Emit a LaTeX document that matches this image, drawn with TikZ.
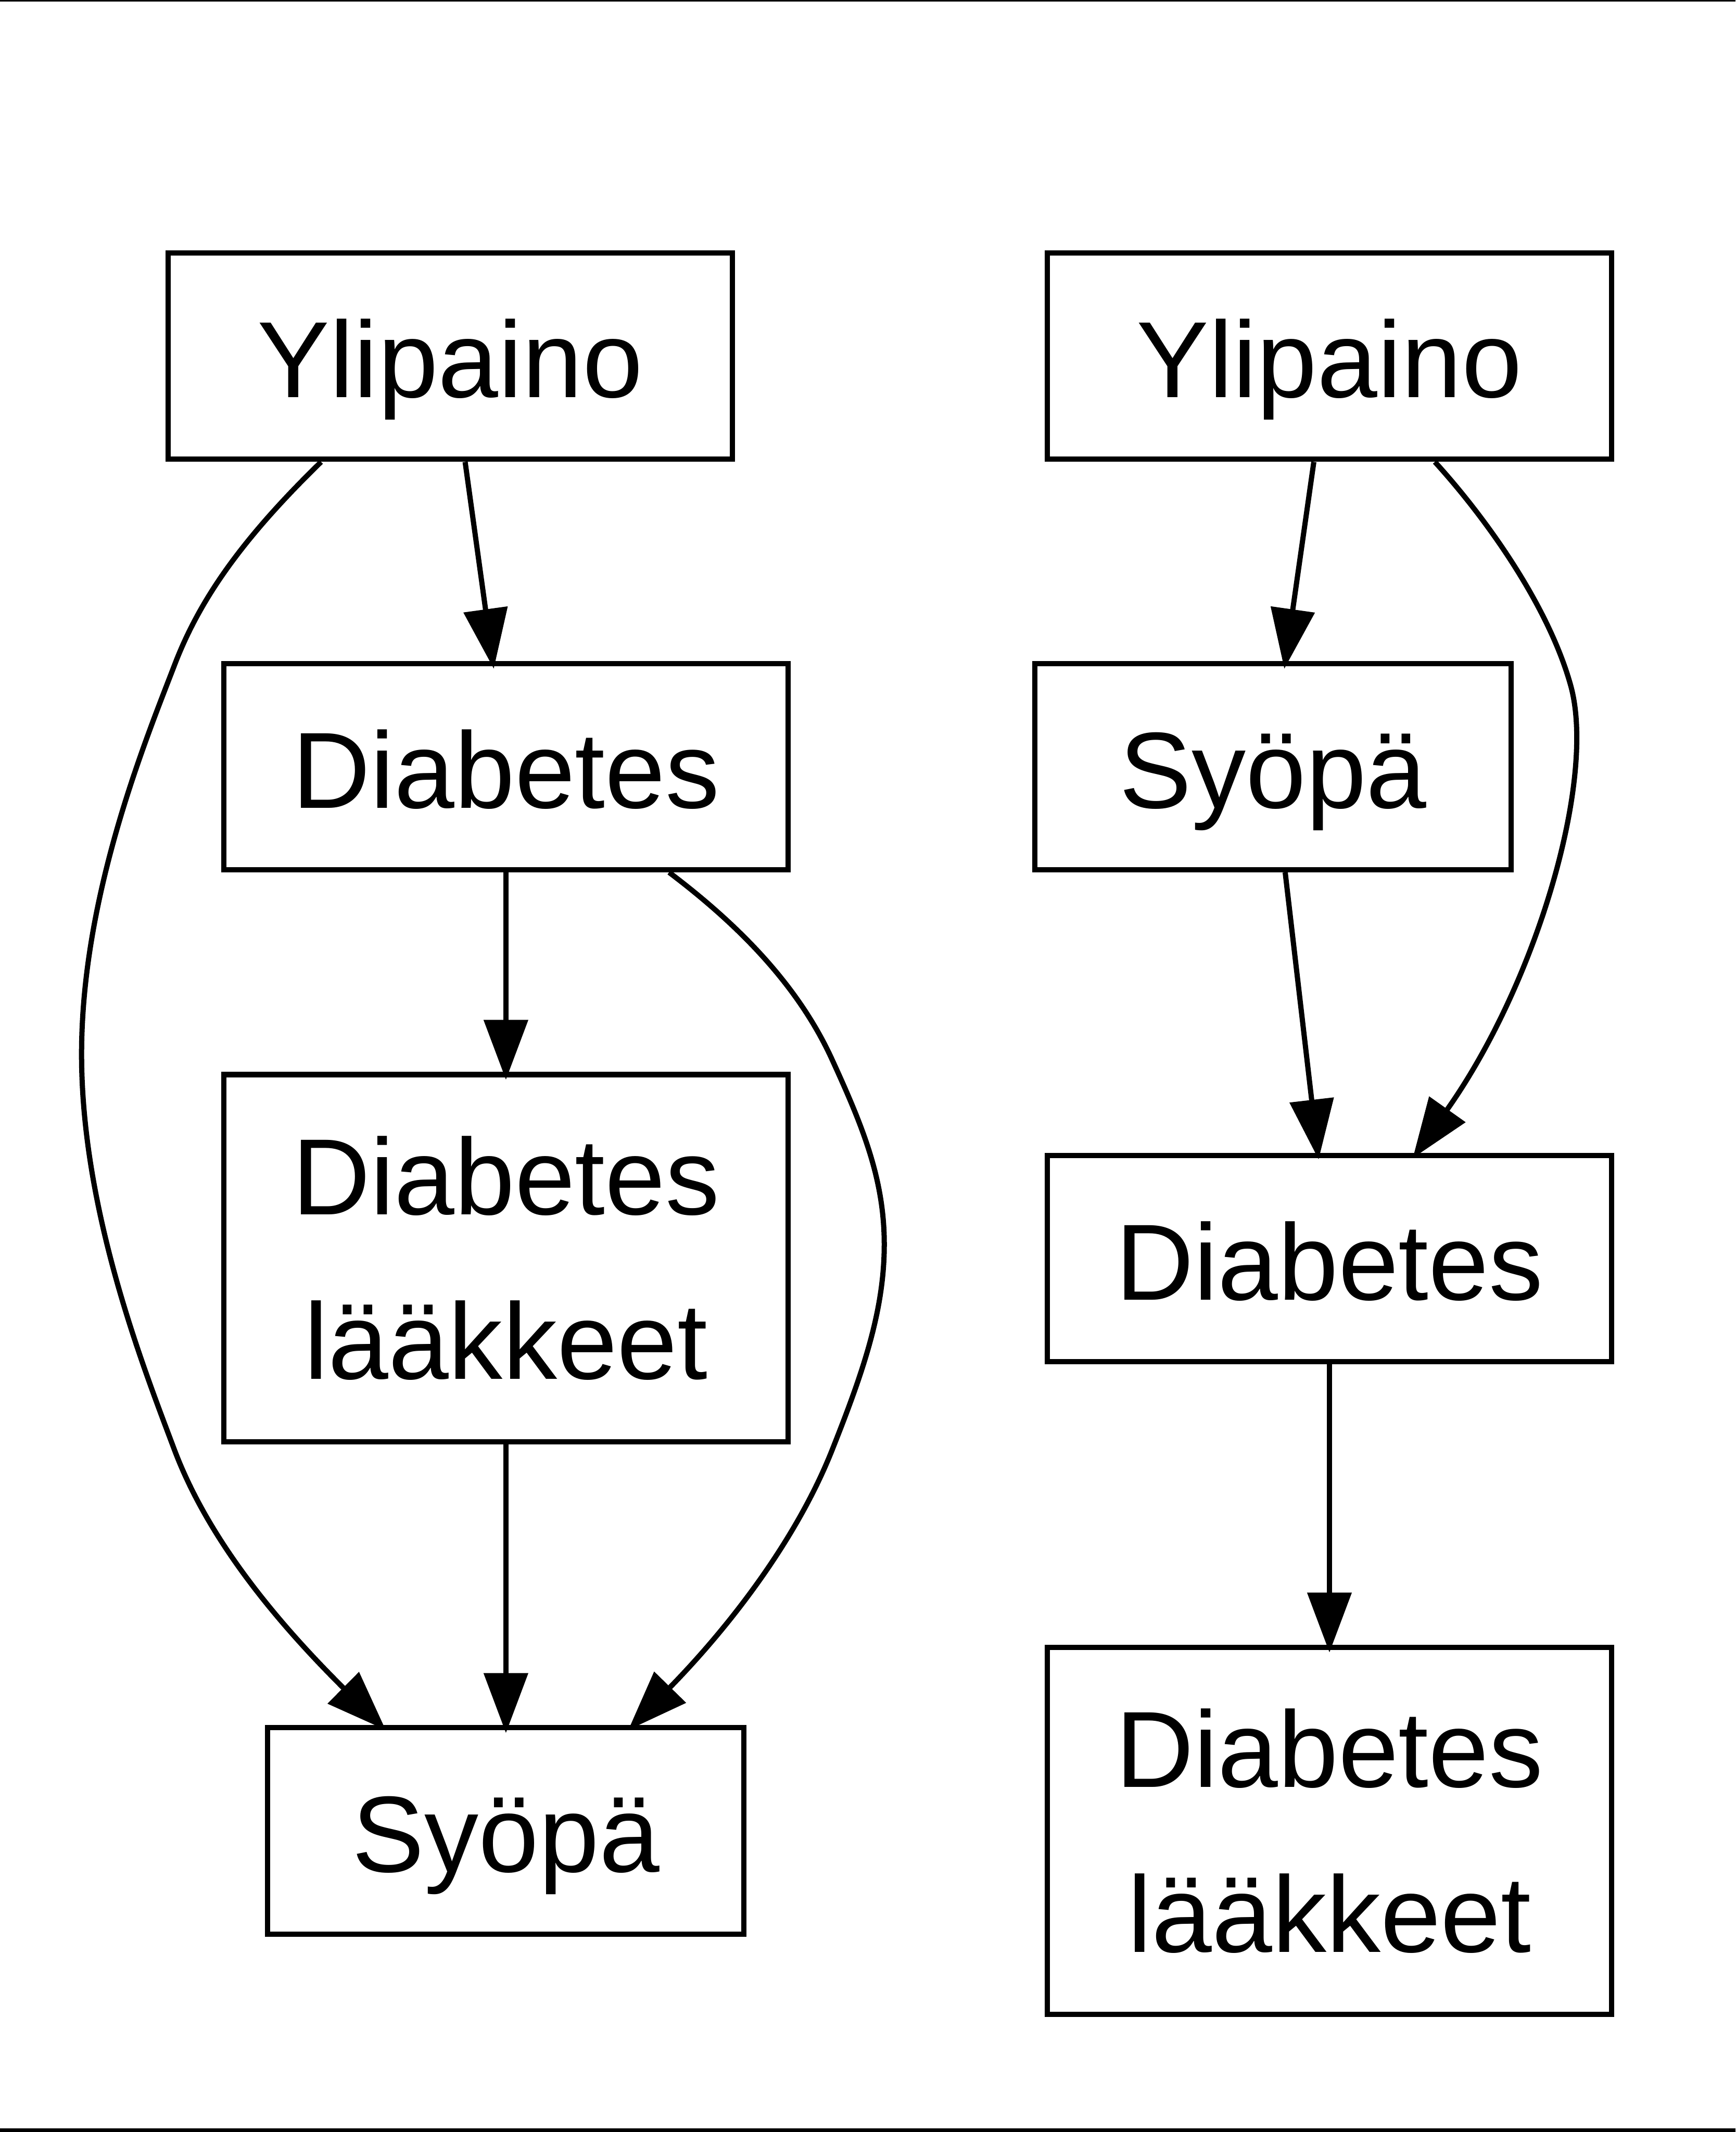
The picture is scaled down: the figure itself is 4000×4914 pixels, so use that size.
\documentclass[tikz,border=0pt]{standalone}
\usepackage{fontspec}
\setmainfont{Liberation Sans}
\usetikzlibrary{arrows.meta,calc}
\begin{document}
\begin{tikzpicture}[x=0.01cm,y=-0.01cm,
  box/.style={draw, line width=0.12cm, inner sep=0pt, align=center,
    font=\fontsize{71}{108}\selectfont},
  wide/.style={minimum width=13.0cm},
  narrow/.style={minimum width=10.97cm},
  onel/.style={minimum height=4.75cm, text height=2.4cm, text depth=0.5cm},
  twol/.style={minimum height=8.46cm},
  arr/.style={line width=0.12cm, -{Triangle[length=1.38cm,width=1.0cm]}}]
\useasboundingbox (0,0) rectangle (4000,4914);
\fill[black] (0,0) rectangle (4000,3);
\fill[black] (0,4906) rectangle (4000,4914);
% left graph
\node[box,wide,onel] (lY) at (1038,821) {Ylipaino};
\node[box,wide,onel] (lD) at (1166,1767) {Diabetes};
\node[box,wide,twol] (lL) at (1166,2900) {Diabetes\\lääkkeet};
\node[box,narrow,onel] (lS) at (1166,4220) {Syöpä};
% right graph
\node[box,wide,onel] (rY) at (3064,821) {Ylipaino};
\node[box,narrow,onel] (rS) at (2934,1767) {Syöpä};
\node[box,wide,onel] (rD) at (3064,2901) {Diabetes};
\node[box,wide,twol] (rL) at (3064,4220) {Diabetes\\lääkkeet};
% left edges
\draw[arr] ($(lY.south)+(34,0)$) -- ($(lD.north)+(-28,18)$);
\draw[arr] (lD.south) -- ($(lL.north)+(0,18)$);
\draw[arr] (lL.south) -- ($(lS.north)+(0,18)$);
\draw[arr] ($(lY.south)+(-298,0)$)
  .. controls (560,1240) and (460,1380) .. (401,1536)
  .. controls (330,1720) and (188,2070) .. (188,2430)
  .. controls (188,2790) and (330,3150) .. (401,3339)
  .. controls (480,3550) and (640,3740) .. ($(lS.north)+(-277,11)$);
\draw[arr] ($(lD.south)+(376,0)$)
  .. controls (1700,2130) and (1840,2270) .. (1919,2445)
  .. controls (1990,2600) and (2038,2720) .. (2038,2868)
  .. controls (2038,3020) and (1990,3160) .. (1919,3339)
  .. controls (1840,3540) and (1690,3740) .. ($(lS.north)+(282,11)$);
% right edges
\draw[arr] ($(rY.south)+(-36,0)$) -- ($(rS.north)+(26,18)$);
\draw[arr] ($(rS.south)+(28,0)$) -- ($(rD.north)+(-25,15)$);
\draw[arr] ($(rY.south)+(243,0)$)
  .. controls (3430,1200) and (3570,1400) .. (3620,1580)
  .. controls (3680,1796) and (3541,2267) .. ($(rD.north)+(192,12)$);
\draw[arr] (rD.south) -- ($(rL.north)+(0,18)$);
\end{tikzpicture}
\end{document}
